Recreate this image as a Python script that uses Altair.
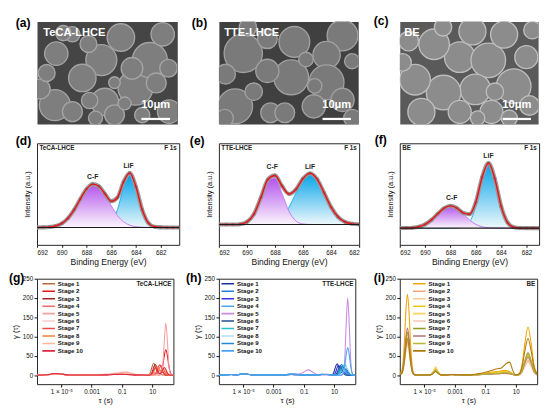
import math
import altair as alt
import pandas as pd

FONT = "Liberation Sans"

# ---------------- SEM micrographs (a)-(c): particles, in µm ----------------
SEM_W_UM, SEM_H_UM = 48, 35
SEM_A_X = [33.7, 38.6, 22.0, 15.5, 6.1, 23.2, 32.5, 28.7, 6.6, 40.8, 12.1, 1.1, 45.2, 43.0, 26.5, 12.1, 26.5, 17.6, 3.3, 18.0, 45.0, 9.0, 36.0, 20.0, 30.0]
SEM_A_Y = [22.6, 13.2, 13.2, 19.3, 28.6, 27.5, 16.0, 5.5, 11.0, 21.0, 4.4, 23.1, 30.8, 4.4, 31.9, 30.8, 20.9, 7.7, 17.6, 27.0, 16.0, 4.0, 32.0, 33.0, 28.0]
SEM_A_R = [6.0, 6.0, 5.3, 4.7, 5.3, 4.7, 3.7, 4.7, 4.0, 3.4, 2.6, 3.4, 4.0, 4.0, 3.4, 3.4, 2.0, 2.9, 2.9, 2.8, 3.0, 2.6, 2.6, 2.4, 2.2]
SEM_B_X = [8.4, 42.6, 37.1, 26.0, 37.1, 24.9, 5.6, 42.6, 16.7, 32.7, 17.8, 45.9, 2.3, 22.7, 16.7, 12.0, 30.0, 46.0, 10.0, 33.0, 2.0]
SEM_B_Y = [10.9, 4.8, 11.5, 7.0, 20.8, 19.1, 29.0, 26.8, 16.9, 29.0, 31.2, 13.6, 18.0, 31.2, 5.9, 24.0, 13.0, 33.0, 2.0, 22.0, 33.0]
SEM_B_R = [6.6, 5.3, 4.7, 5.3, 6.0, 6.0, 6.0, 4.0, 4.0, 4.0, 3.4, 2.6, 3.4, 3.4, 3.4, 3.0, 2.5, 3.0, 3.0, 2.5, 3.0]
SEM_C_X = [20.8, 30.7, 39.5, 26.2, 15.2, 5.3, 11.9, 36.2, 43.9, 25.2, 7.5, 20.8, 31.8, 45.0, 3.1, 33.0, 15.0, 46.0, 1.0, 38.0, 27.0]
SEM_C_Y = [12.2, 13.3, 22.1, 23.2, 24.3, 19.9, 7.8, 4.5, 12.2, 3.4, 30.9, 30.9, 30.9, 28.7, 6.7, 24.0, 2.0, 3.0, 14.0, 33.0, 33.0]
SEM_C_R = [5.3, 6.0, 6.0, 5.3, 6.0, 5.3, 5.3, 4.7, 4.0, 4.7, 4.7, 4.0, 4.0, 3.4, 3.4, 3.0, 3.0, 3.0, 3.0, 2.8, 2.5]
SEM_BAR = [35.7, 45.5]
SEM_BAR_Y = 33.3

# ---------------- XPS F 1s (d)-(f) ----------------
XPS_D_BE = [692, 691.5, 691, 690.5, 690, 689.5, 689, 688.5, 688, 687.5, 687, 686.5, 686, 685.5, 685, 684.5, 684, 683.5, 683, 682.5, 682, 681.5, 681, 680.5]
XPS_D_CF = [0, 0.1, 0.5, 1.5, 4.1, 9.5, 18.2, 29.3, 39.6, 44.8, 42.5, 33.8, 22.5, 12.5, 5.9, 2.3, 0.8, 0.2, 0, 0, 0, 0, 0, 0]
XPS_D_LIF = [0, 0, 0, 0, 0, 0, 0, 0, 0, 0, 0.1, 0.7, 4.7, 18.3, 41.2, 54, 41.2, 18.3, 4.7, 0.7, 0.1, 0, 0, 0]
XPS_E_BE = [692, 691.5, 691, 690.5, 690, 689.5, 689, 688.5, 688, 687.5, 687, 686.5, 686, 685.5, 685, 684.5, 684, 683.5, 683, 682.5, 682]
XPS_E_CF = [0, 0, 0.1, 0.4, 2.7, 10.8, 28, 46.1, 48.2, 32.1, 13.6, 3.6, 0.6, 0.1, 0, 0, 0, 0, 0, 0, 0]
XPS_E_LIF = [0, 0, 0, 0, 0, 0, 0.1, 0.7, 2.6, 7.7, 18, 32.8, 47, 53, 47, 32.8, 18, 7.7, 2.6, 0.7, 0.1]
XPS_F_BE = [692, 691.5, 691, 690.5, 690, 689.5, 689, 688.5, 688, 687.5, 687, 686.5, 686, 685.5, 685, 684.5, 684, 683.5, 683, 682.5, 682, 681.5, 681]
XPS_F_CF = [0, 0.1, 0.4, 1.4, 3.9, 8.5, 14.8, 20.6, 23, 20.6, 14.8, 8.5, 3.9, 1.4, 0.4, 0.1, 0, 0, 0, 0, 0, 0, 0]
XPS_F_LIF = [0, 0, 0, 0, 0, 0, 0, 0, 0, 0.1, 0.9, 5.9, 22.7, 51.1, 67, 51.1, 22.7, 5.9, 0.9, 0.1, 0, 0, 0]
PEAK_TXT = ["C-F", "LiF"]
PEAK_D = ([687.5, 684.6], [52, 63])
PEAK_E = ([688.2, 685.5], [59, 59])
PEAK_F = ([687.9, 685.0], [31, 74])
BE_TICKS = [682, 684, 686, 688, 690, 692]

# ---------------- DRT (g)-(i) ----------------
STAGES = ["Stage %d" % i for i in range(1, 11)]
TAU_LOG_RANGE = [-6.6, 2.4]
TAU_TICKS = [0.00001, 0.001, 0.1, 10]
GAMMA_RANGE = [-23, 250]
GAMMA_TICKS = [0, 50, 100, 150, 200, 250]

LOG_TAU_GH = [-6.6, -6.2, -5.8, -5.4, -5.0, -4.6, -4.2, -3.6, -3.0, -2.4, -1.8, -1.4, -1.0, -0.7, -0.4, -0.1, 0.2, 0.5,
              0.7, 0.8, 0.9, 1.0, 1.1, 1.2, 1.3, 1.4, 1.5, 1.6, 1.7, 1.8, 1.9, 2.0, 2.1, 2.2, 2.3, 2.4]

TECA_LOW = [
    [0, 0.5, 2, 4, 3, 1, 0.5, 0.5, 0.5, 1, 2, 3, 3, 2, 2, 1.5, 1, 0.5],
    [0, 0.5, 2, 4.5, 3, 1, 0.5, 0.5, 0.5, 1, 1.5, 2, 2.5, 2, 1.5, 1, 1, 0.5],
    [0, 0.5, 2, 4, 3, 1, 0.5, 0.5, 0.5, 1, 2, 3, 3.5, 3, 2, 1.5, 1, 0.5],
    [0, 0.5, 1.5, 3.5, 3, 1, 0.5, 0.5, 0.5, 1, 2, 3, 4, 4, 3, 2, 1, 0.5],
    [0, 0.5, 1.5, 3.5, 3, 1, 0.5, 0.5, 1, 1.5, 3, 5, 7, 8, 5, 2, 1, 0.5],
    [0, 0.5, 1.5, 3.5, 3, 1, 0.5, 0.5, 1, 2, 3.5, 6, 9, 10, 6, 2, 1, 0.5],
    [0, 0.5, 2, 4, 3, 1, 0.5, 0.5, 0.5, 1, 2, 3, 3, 2.5, 2, 1.5, 1, 0.5],
    [0, 0.5, 2, 4, 3, 1, 0.5, 0.5, 0.5, 1, 2, 2.5, 3, 3, 2.5, 2, 1, 0.5],
    [0, 0.5, 1.5, 3.5, 3, 1, 0.5, 0.5, 0.5, 1, 2, 3, 4, 5, 4, 2, 1, 0.5],
    [0, 0.5, 2, 4.5, 3.5, 1, 0.5, 0.5, 0.5, 1, 1.5, 2, 2.5, 2, 1.5, 1, 1, 0.5],
]
TECA_HIGH = [
    [0.3, 2.2, 9.5, 23, 31, 23, 10, 4, 3, 2, 1, 0.5, 0, 0, 0, 0, 0, 0],
    [0, 0, 0.5, 2, 5, 6, 4, 1.5, 1.1, 6.6, 23.8, 51, 66, 51, 23.8, 6.6, 1.1, 0],
    [0, 0.3, 2, 8.6, 21, 28, 21.5, 11, 8, 10, 7.4, 3, 0.7, 0.1, 0, 0, 0, 0],
    [0, 0, 0, 0, 0.1, 0.7, 3.4, 10.3, 20, 25, 20, 10.3, 3.4, 0.7, 0.1, 0, 0, 0],
    [0, 0.5, 2, 4, 5, 5, 3, 0.8, 0.2, 3.2, 25.8, 89.4, 135, 89.4, 25.8, 3.2, 0.2, 0],
    [0, 0, 0, 0, 0, 0, 0.6, 3, 9, 17.6, 22, 17.6, 9, 3, 0.6, 0, 0, 0],
    [0, 0, 0, 0, 0.6, 3.6, 11, 21.6, 27, 21.6, 11, 3.6, 0.8, 0.1, 0, 0, 0, 0],
    [0, 0, 0.6, 3, 9, 17.6, 22, 18, 12, 12.5, 15, 12, 6, 2, 0.4, 0, 0, 0],
    [0, 0, 0, 0, 0, 0, 0, 0.5, 2.4, 7.4, 14.4, 18, 14.4, 7.4, 2.4, 0.5, 0, 0],
    [0, 0.2, 1.4, 6, 15, 20, 15, 7, 4, 7, 15, 20, 15, 6, 1.4, 0.2, 0, 0],
]
TTE_LOW = [
    [0, 0.5, 2, 1.5, 3.5, 2, 0.5, 0.5, 0.5, 1, 2, 1.5, 1, 1, 1, 1, 2, 2],
    [0, 0.5, 2, 1.5, 3.5, 2, 0.5, 0.5, 0.5, 1, 2.5, 2, 1, 1, 1, 1.5, 2.5, 2],
    [0, 0.5, 2, 1.5, 3, 2, 0.5, 0.5, 0.5, 1, 2, 1.5, 1, 1, 1, 1, 2, 2],
    [0, 0.5, 2, 1.5, 3, 2, 0.5, 0.5, 0.5, 1, 3, 2, 1, 1, 1, 1.5, 2, 2],
    [0, 0.5, 1.5, 1.5, 3, 2, 0.5, 0.5, 0.5, 1, 3.5, 3, 8, 14, 8, 2, 1, 1],
    [0, 0.5, 2, 1.5, 3, 2, 0.5, 0.5, 0.5, 1, 2, 1.5, 1, 1, 1, 1, 2, 2.5],
    [0, 0.5, 2, 1.5, 3.5, 2, 0.5, 0.5, 0.5, 1, 2.5, 2, 1, 1, 1, 1, 2, 2],
    [0, 0.5, 1.5, 1.5, 3, 2, 0.5, 0.5, 0.5, 1, 2, 1.5, 1, 1, 1, 1, 1.5, 2],
    [0, 0.5, 2, 1.5, 3.5, 2, 0.5, 0.5, 0.5, 1, 2.5, 2, 1, 1, 1, 1.5, 2, 2],
    [0, 0.5, 2, 1.5, 4, 2, 0.5, 0.5, 0.5, 1, 3, 2, 1, 1, 1, 1.5, 2.5, 2],
]
TTE_HIGH = [
    [2, 1, 2.1, 9.2, 22.3, 30, 22.3, 11.6, 6.7, 8, 6, 2.4, 0.6, 0, 0, 0, 0, 0],
    [1.5, 1, 0.5, 0.1, 0.8, 3.8, 11.5, 22.4, 28, 22.4, 11.5, 3.8, 0.8, 0.1, 0, 0, 0, 0],
    [1.5, 1, 0.3, 1.8, 8, 19.3, 26, 20.4, 12.9, 13.7, 16.1, 11.9, 4.9, 1.1, 0.1, 0, 0, 0],
    [1.5, 1, 0.5, 0.2, 0.1, 0.6, 2.7, 8.2, 16, 20, 16, 8.2, 2.7, 0.6, 0.1, 0, 0, 0],
    [1, 0.5, 0.2, 0, 0, 0, 0, 0, 0.3, 4.8, 38.2, 132.4, 200, 132.4, 38.2, 4.8, 0.3, 0],
    [2, 1, 0.5, 0.2, 1.7, 7.3, 17.9, 24, 17.9, 7.3, 1.7, 0.2, 0, 0, 0, 0, 0, 0],
    [1.5, 1, 0.5, 0.2, 0, 0.1, 0.8, 3.8, 11.5, 22.4, 28, 22.4, 11.5, 3.8, 0.8, 0.1, 0, 0],
    [1.5, 1, 0.5, 0.2, 0, 0, 0.1, 0.6, 2.7, 8.2, 16, 20, 16, 8.2, 2.7, 0.6, 0.1, 0],
    [1.5, 1, 0.5, 0.2, 0.2, 1.5, 6.7, 16.4, 23, 20.7, 17.1, 15.5, 10.4, 4.3, 1, 0.1, 0, 0],
    [1.5, 1, 0.5, 0.2, 0, 0, 0, 0, 0.6, 5, 22, 53.6, 72, 53.6, 22, 5, 0.6, 0],
]

LOG_TAU_I = [-6.6, -6.45, -6.3, -6.2, -6.1, -6.0, -5.9, -5.75, -5.6,
             -5.2, -4.8, -4.6, -4.4, -4.25, -4.1, -3.9, -3.6,
             -3.2, -2.8, -2.4, -2.0, -1.6, -1.2, -0.8, -0.4,
             -0.2, 0.0, 0.2, 0.4, 0.6, 0.8, 1.0,
             1.2, 1.4, 1.6, 1.8, 2.0, 2.2, 2.4]
BE_CURVES = [
    [3, 14, 86, 168, 210, 168, 86, 14, 1, 0.5, 0.5, 1, 8, 15, 8, 1, 1, 2, 1.5, 1, 1, 2, 4, 7, 9, 10, 11, 12, 12, 9, 4, 1, 4, 26, 84, 125, 84, 26, 4],
    [2, 6, 35, 68, 85, 68, 35, 6, 1, 0.5, 0.5, 1, 6, 12, 6, 1, 1, 1.5, 1, 1, 1, 1.5, 2, 3, 4, 4, 4.5, 5, 5, 4, 2, 0.5, 1, 8, 25, 38, 25, 8, 1],
    [2, 5, 33, 64, 80, 64, 33, 5, 1, 0.5, 0.5, 1.5, 11, 22, 11, 1.5, 1, 2, 1.5, 1, 1, 1.5, 2.5, 3.5, 5, 5.5, 6, 7, 6, 4, 2, 0.5, 1, 7, 23, 35, 23, 7, 1],
    [2, 7, 43, 84, 105, 84, 43, 7, 1, 0.5, 0.5, 1, 9, 18, 9, 1, 1, 2, 1.5, 1, 1, 2, 3, 5, 7, 8, 9, 10, 9, 6, 2.5, 0.5, 1.5, 11, 35, 52, 35, 11, 1.5],
    [2, 7, 41, 80, 100, 80, 41, 7, 1, 0.5, 0.5, 1.5, 10, 20, 10, 1.5, 1, 1.5, 1, 1, 1, 1.5, 2, 3, 4, 4, 4.5, 5, 5, 4, 2, 0.5, 1.4, 9.5, 30, 45, 30, 9.5, 1.4],
    [2, 5, 32, 62, 78, 62, 32, 5, 1, 0.5, 0.5, 1, 6, 12, 6, 1, 1, 1.5, 1, 1, 1, 1.5, 2, 3, 3.5, 3.5, 4, 4, 4, 3.5, 2, 0.5, 1.2, 8.4, 27, 40, 27, 8.4, 1.2],
    [2, 7, 45, 89, 111, 89, 45, 7, 1, 0.5, 0.5, 1, 7, 13, 7, 1, 1, 2, 1.5, 1, 1, 1.5, 2, 3, 4, 4.5, 5, 6, 6, 5, 2, 0.5, 1.7, 12, 39, 58, 39, 12, 1.7],
    [2, 8, 50, 98, 122, 98, 50, 8, 1, 0.5, 0.5, 1, 6, 12, 6, 1, 1, 1.5, 1, 1, 1, 1.5, 2, 3, 4, 4, 4.5, 5, 5, 4, 2, 0.5, 1.4, 10, 32, 48, 32, 10, 1.4],
    [2, 6, 37, 72, 90, 72, 37, 6, 1, 0.5, 0.5, 1, 7, 14, 7, 1, 1, 2, 1.5, 1, 1, 1.5, 2.5, 3.5, 4.5, 5, 5.5, 6, 6, 5, 2.5, 0.5, 1.6, 11.5, 37, 55, 37, 11.5, 1.6],
    [2, 6, 39, 76, 95, 76, 39, 6, 1, 0.5, 0.5, 1, 5, 10, 5, 1, 1, 2, 1.5, 1, 1, 3, 6, 10, 15, 17, 18, 24, 31, 34, 12, 1, 3, 20, 64, 95, 64, 20, 3],
]

TECA_COLORS = ["#b8683e", "#e8131b", "#a5242a", "#f26b6b", "#f7a1a4", "#fbcaca", "#f0474e", "#f47f34", "#f8b9a3", "#df2541"]
TTE_COLORS = ["#1d2f9e", "#2b7de0", "#3535e6", "#49a8f2", "#c98ae8", "#1f4f8f", "#25c4d2", "#b0dcf2", "#2187d6", "#4aa3f0"]
BE_COLORS = ["#f0a500", "#f3a582", "#f8cb92", "#f2c80e", "#f9d45f", "#f8c6b3", "#8e9c1f", "#b37276", "#b5b832", "#b07a10"]


def one(text):
    return pd.DataFrame({"t": [text]})


def panel_label(text, dx, dy):
    return alt.Chart(one(text)).mark_text(align="left", baseline="middle", fontSize=12.5,
                                          fontWeight="bold", color="#000").encode(
        x=alt.value(dx), y=alt.value(dy), text="t:N")


def spacer(w, h):
    return alt.Chart(one("")).mark_point(size=0, opacity=0).encode(
        x=alt.value(0), y=alt.value(0)).properties(
        width=w, height=h, view=alt.ViewBackground(stroke="transparent"))


def sem_panel(xs, ys, rs, w, h, bg, fill, edge, name, name_dx, plab, pl_dx, pl_dy):
    px = w / SEM_W_UM
    df = pd.DataFrame({"x": xs, "y": ys, "s": [(2 * r * px) ** 2 for r in rs]})
    xsc = alt.Scale(domain=[0, SEM_W_UM], nice=False, zero=False)
    ysc = alt.Scale(domain=[0, SEM_H_UM], reverse=True, nice=False, zero=False)
    parts = alt.Chart(df).mark_circle(color=fill, stroke=edge, strokeWidth=1.4, opacity=1, clip=True).encode(
        x=alt.X("x:Q", scale=xsc, axis=None), y=alt.Y("y:Q", scale=ysc, axis=None),
        size=alt.Size("s:Q", scale=None))
    bdf = pd.DataFrame({"x": [SEM_BAR[0]], "x2": [SEM_BAR[1]], "y": [SEM_BAR_Y],
                        "xm": [(SEM_BAR[0] + SEM_BAR[1]) / 2], "ty": [SEM_BAR_Y - 4.6], "t": ["10μm"]})
    bar = alt.Chart(bdf).mark_rule(color="white", strokeWidth=2.3).encode(
        x=alt.X("x:Q", scale=xsc, axis=None), x2="x2:Q", y=alt.Y("y:Q", scale=ysc, axis=None))
    bar_t = alt.Chart(bdf).mark_text(color="white", fontSize=11.5, fontWeight="bold", baseline="middle").encode(
        x=alt.X("xm:Q", scale=xsc, axis=None), y=alt.Y("ty:Q", scale=ysc, axis=None), text="t:N")
    name_t = alt.Chart(one(name)).mark_text(color="white", align="left", baseline="middle",
                                            fontSize=11.5, fontWeight="bold").encode(
        x=alt.value(name_dx), y=alt.value(12.5), text="t:N")
    return alt.layer(parts, bar, bar_t, name_t, panel_label(plab, pl_dx, pl_dy)).properties(
        width=w, height=h, view=alt.ViewBackground(fill=bg, stroke="transparent"))


def grad(top, bottom):
    return alt.LinearGradient(gradient="linear", x1=0, x2=0, y1=0, y2=1,
                              stops=[alt.GradientStop(color=top, offset=0),
                                     alt.GradientStop(color=bottom, offset=1)])


def xps_panel(be, cf, lif, dom_x, dom_y, name, peaks, w, h, plab, pl_dx, pl_dy):
    df = pd.DataFrame({"be": be, "cf": cf, "lif": lif})
    df["fit"] = df["cf"] + df["lif"]
    df["bg"] = 0.0
    xenc = alt.X("be:Q", scale=alt.Scale(domain=dom_x, reverse=True, nice=False, zero=False),
                 axis=alt.Axis(values=BE_TICKS, format="d", title="Binding Energy (eV)", titleFontSize=8.8,
                               tickSize=2.5, labelPadding=2.5, titlePadding=2))

    def yenc(f):
        return alt.Y(f + ":Q", scale=alt.Scale(domain=dom_y, nice=False, zero=False),
                     axis=alt.Axis(labels=False, ticks=False, title="Intensity (a.u.)", titleFontSize=7.6,
                                   titlePadding=6))

    base = alt.Chart(df)
    blue_a = base.mark_area(color=grad("#03a3e8", "#eef8fc"), interpolate="monotone", clip=True).encode(
        x=xenc, y=yenc("lif"), y2=alt.datum(0))
    blue_l = base.mark_line(color="#1cb2ef", strokeWidth=1, interpolate="monotone", clip=True).encode(
        x=xenc, y=yenc("lif"))
    purp_a = base.mark_area(color=grad("#b353ec", "#fbf6fd"), interpolate="monotone", clip=True).encode(
        x=xenc, y=yenc("cf"), y2=alt.datum(0))
    purp_l = base.mark_line(color="#c47cf0", strokeWidth=1, interpolate="monotone", clip=True).encode(
        x=xenc, y=yenc("cf"))
    band = base.mark_line(color="#9c9c9c", strokeWidth=4.2, interpolate="monotone", clip=True).encode(
        x=xenc, y=yenc("fit"))
    pts = base.mark_circle(color="#868686", size=13, opacity=1, clip=True).encode(x=xenc, y=yenc("fit"))
    red = base.mark_line(color="#e8131b", strokeWidth=1.5, interpolate="monotone", clip=True).encode(
        x=xenc, y=yenc("fit"))
    bgl = base.mark_line(color="#1a1a1a", strokeWidth=1.1, clip=True).encode(x=xenc, y=yenc("bg"))
    pdf = pd.DataFrame({"be": peaks[0], "y": peaks[1], "t": PEAK_TXT})
    peak_t = alt.Chart(pdf).mark_text(fontSize=7, fontWeight="bold", color="#222", baseline="middle").encode(
        x=xenc, y=yenc("y"), text="t:N")
    name_t = alt.Chart(one(name)).mark_text(align="left", baseline="middle", fontSize=6.5,
                                            fontWeight="bold", color="#222").encode(
        x=alt.value(2.5), y=alt.value(4.5), text="t:N")
    f1s_t = alt.Chart(one("F 1s")).mark_text(align="right", baseline="middle", fontSize=6.5,
                                             fontWeight="bold", color="#222").encode(
        x=alt.value(w - 2.5), y=alt.value(4.5), text="t:N")
    return alt.layer(blue_a, blue_l, purp_a, purp_l, band, pts, red, bgl, peak_t, name_t, f1s_t,
                     panel_label(plab, pl_dx, pl_dy)).properties(width=w, height=h)


LABEL_EXPR = ("datum.value < 0.0001 ? '1 × 10⁻⁵' : (datum.value < 0.01 ? '0.001' : "
              "(datum.value < 1 ? '0.1' : '10'))")


def drt_panel(grid, curves, colors, name, key, leg_x, w, h, plab, pl_dx, pl_dy):
    rows = []
    for s, vals in zip(STAGES, curves):
        for lg, v in zip(grid, vals):
            rows.append({"tau": 10 ** lg, "gamma": v, key: s})
    df = pd.DataFrame(rows)
    xsc = alt.Scale(type="log", domain=[10 ** TAU_LOG_RANGE[0], 10 ** TAU_LOG_RANGE[1]], nice=False)
    lines = alt.Chart(df).mark_line(strokeWidth=1.1, interpolate="monotone", clip=True).encode(
        x=alt.X("tau:Q", scale=xsc, axis=alt.Axis(values=TAU_TICKS, labelExpr=LABEL_EXPR, title="τ (s)",
                                                  titleFontSize=8, tickSize=3, labelPadding=1.5, titlePadding=2)),
        y=alt.Y("gamma:Q", scale=alt.Scale(domain=GAMMA_RANGE, nice=False, zero=False),
                axis=alt.Axis(values=GAMMA_TICKS, title="γ (τ)", titleFontSize=8, tickSize=3,
                              labelPadding=1.5, titlePadding=3)),
        color=alt.Color(key + ":N", scale=alt.Scale(domain=STAGES, range=colors),
                        legend=alt.Legend(orient="none", legendX=leg_x, legendY=2, title=None,
                                          symbolType="stroke", symbolSize=169, symbolStrokeWidth=1.6,
                                          labelFontSize=6.3, labelFontWeight="bold", labelColor="#111",
                                          clipHeight=6.6, rowPadding=0.7, labelOffset=2, padding=0)),
    )
    name_t = alt.Chart(one(name)).mark_text(align="right", baseline="middle", fontSize=6.5,
                                            fontWeight="bold", color="#222").encode(
        x=alt.value(w - 2), y=alt.value(6), text="t:N")
    return alt.layer(lines, name_t, panel_label(plab, pl_dx, pl_dy)).properties(width=w, height=h)


a = sem_panel(SEM_A_X, SEM_A_Y, SEM_A_R, 145, 106, "#454545", "#7e7e7e", "#a4a4a4", "TeCA-LHCE", 6.5, "(a)", -22, 2)
b = sem_panel(SEM_B_X, SEM_B_Y, SEM_B_R, 144, 106, "#404040", "#7a7a7a", "#a0a0a0", "TTE-LHCE", 5.5, "(b)", -28, 2)
c = sem_panel(SEM_C_X, SEM_C_Y, SEM_C_R, 143, 106, "#5a5a5a", "#8c8c8c", "#bdbdbd", "BE", 4.5, "(c)", -27, 0)

d = xps_panel(XPS_D_BE, XPS_D_CF, XPS_D_LIF, [680.5, 692], [-18, 87], "TeCA-LHCE", PEAK_D, 147, 105, "(d)", -22, -2)
e = xps_panel(XPS_E_BE, XPS_E_CF, XPS_E_LIF, [682, 692], [-21, 84], "TTE-LHCE", PEAK_E, 145, 105, "(e)", -30, -2)
f = xps_panel(XPS_F_BE, XPS_F_CF, XPS_F_LIF, [681, 692], [-17.3, 87.7], "BE", PEAK_F, 144, 105, "(f)", -26, -3)

TECA = [lo + hi for lo, hi in zip(TECA_LOW, TECA_HIGH)]
TTE = [lo + hi for lo, hi in zip(TTE_LOW, TTE_HIGH)]
g = drt_panel(LOG_TAU_GH, TECA, TECA_COLORS, "TeCA-LHCE", "stage_g", 4.5, 141, 109, "(g)", -29, -1)
h = drt_panel(LOG_TAU_GH, TTE, TTE_COLORS, "TTE-LHCE", "stage_h", 1.7, 141, 109, "(h)", -34, -1)
i = drt_panel(LOG_TAU_I, BE_CURVES, BE_COLORS, "BE", "stage_i", 12.7, 142, 109, "(i)", -27, -1)

items = (
    [spacer(1, 1), a, spacer(38, 1), b, spacer(42, 1), c]
    + [spacer(1, 20) for _ in range(6)]
    + [spacer(1, 1), d, spacer(38, 1), e, spacer(39, 1), f]
    + [spacer(1, 35) for _ in range(6)]
    + [spacer(8, 1), g, spacer(41, 1), h, spacer(40, 1), i]
)

chart = alt.concat(*items, columns=6, spacing=0, bounds="flush", align="none").resolve_scale(
    x="independent", y="independent", color="independent", size="independent").resolve_legend(
    color="independent").properties(padding={"left": 0, "top": 0, "right": 2, "bottom": 2}).configure_view(
    stroke="#222222", strokeWidth=1).configure_axis(
    domain=False, grid=False, labelFont=FONT, titleFont=FONT, labelColor="#111", titleColor="#111",
    tickColor="#111", labelFontSize=6.5, titleFontWeight="normal").configure_text(
    font=FONT).configure_legend(labelFont=FONT)

chart.save("out.html", embed_options={"renderer": "svg", "actions": False})
